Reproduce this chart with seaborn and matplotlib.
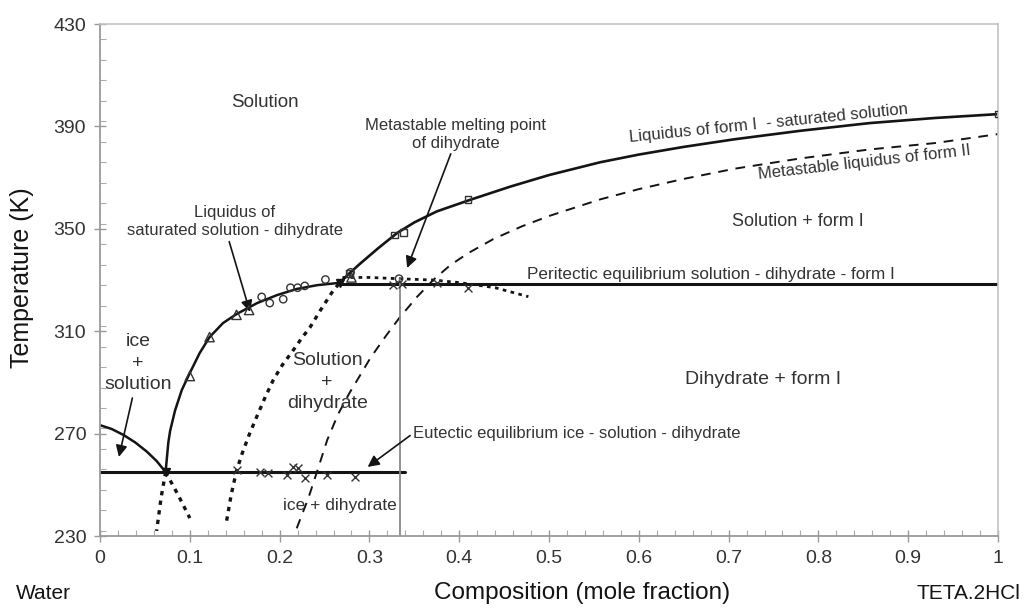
import matplotlib
matplotlib.use("Agg")
import matplotlib.pyplot as plt
import seaborn as sns
from matplotlib.ticker import MultipleLocator

# Curves (x = mole fraction, y = K)
ice_x = [0.0, 0.013, 0.026, 0.039, 0.052, 0.063, 0.073]
ice_y = [273.3, 271.8, 269.5, 266.6, 263.0, 259.3, 255.0]
ice_meta_x = [0.073, 0.087, 0.100]
ice_meta_y = [255.0, 246.0, 237.0]

dih_x = [0.073, 0.076, 0.078, 0.0835, 0.091, 0.100, 0.111, 0.122, 0.137, 0.152, 0.175, 0.197, 0.219, 0.242, 0.267]
dih_y = [255.0, 266.4, 271.0, 279.0, 287.0, 293.7, 301.5, 307.7, 313.2, 316.7, 321.0, 324.1, 326.5, 328.0, 328.9]
dih_meta_x = [0.073, 0.068, 0.063]
dih_meta_y = [255.0, 245.0, 232.0]

bnd_x = [0.141, 0.146, 0.152, 0.158, 0.166, 0.175, 0.184, 0.193, 0.203, 0.214, 0.224, 0.234, 0.246, 0.258, 0.267]
bnd_y = [236.0, 246.0, 255.5, 262.0, 269.5, 277.0, 284.3, 291.0, 296.8, 302.0, 307.0, 311.6, 318.5, 325.0, 329.0]

form1_x = [0.267, 0.278, 0.290, 0.310, 0.331, 0.350, 0.375, 0.412, 0.457, 0.500, 0.557, 0.600, 0.650,
           0.707, 0.780, 0.857, 0.930, 1.0]
form1_y = [329.0, 332.7, 336.5, 342.5, 348.4, 352.5, 356.8, 361.3, 366.5, 371.0, 376.0, 379.0, 382.0,
           385.0, 388.3, 391.3, 393.3, 394.8]

form2_x = [0.219, 0.232, 0.243, 0.253, 0.265, 0.278, 0.290, 0.301, 0.318, 0.334, 0.353, 0.371, 0.390, 0.410,
           0.438, 0.470, 0.500, 0.557, 0.600, 0.650, 0.707, 0.780, 0.857, 0.930, 1.0]
form2_y = [233.0, 244.8, 256.6, 267.5, 277.5, 286.0, 293.0, 299.5, 308.0, 315.5, 323.4, 330.0, 335.8, 340.5,
           346.0, 351.0, 355.0, 361.5, 365.5, 369.5, 373.5, 377.5, 381.0, 383.5, 387.0]

dih_melt_x = [0.270, 0.300, 0.333, 0.370, 0.400, 0.440, 0.477]
dih_melt_y = [331.0, 331.0, 330.5, 330.0, 329.0, 327.0, 323.5]

eutectic_x = [0.0, 0.34]
eutectic_y = [255.0, 255.0]
peritectic_x = [0.267, 1.0]
peritectic_y = [328.5, 328.5]
melt_x = [0.334, 0.334]
melt_y = [230.0, 330.5]

# experimental points
tri_x = [0.100, 0.122, 0.152, 0.166, 0.280]
tri_y = [292.5, 307.7, 316.4, 318.3, 331.0]
circ_x = [0.180, 0.189, 0.204, 0.212, 0.220, 0.228, 0.251, 0.279, 0.333]
circ_y = [323.4, 321.0, 322.5, 327.0, 327.0, 327.7, 330.2, 333.0, 330.5]
sq_x = [0.278, 0.328, 0.338, 0.410, 1.0]
sq_y = [332.5, 347.5, 348.6, 361.5, 394.8]
cross_x = [0.152, 0.178, 0.187, 0.208, 0.215, 0.220, 0.228, 0.253, 0.284, 0.326, 0.336, 0.375, 0.410]
cross_y = [255.7, 255.0, 254.6, 254.0, 257.0, 256.6, 252.6, 254.0, 253.0, 328.0, 328.5, 329.0, 327.0]

x_ticks = [0, 0.1, 0.2, 0.3, 0.4, 0.5, 0.6, 0.7, 0.8, 0.9, 1.0]
x_tick_labels = ["0", "0.1", "0.2", "0.3", "0.4", "0.5", "0.6", "0.7", "0.8", "0.9", "1"]
y_ticks = [230, 270, 310, 350, 390, 430]

sns.set_style("white")
plt.rcParams['font.family'] = ['Liberation Sans', 'DejaVu Sans']

fig = plt.figure(figsize=(10.24, 6.08), dpi=100)
ax = fig.add_axes([0.0977, 0.1184, 0.8769, 0.8421])

ink = "#141414"
txt = "#333333"
dots = (0, (1.3, 1.6))

# phase boundaries
sns.lineplot(x=ice_x, y=ice_y, ax=ax, color=ink, lw=1.8, sort=False, estimator=None)
sns.lineplot(x=ice_meta_x, y=ice_meta_y, ax=ax, color=ink, lw=2.4, sort=False, estimator=None, linestyle=dots)
sns.lineplot(x=dih_x, y=dih_y, ax=ax, color=ink, lw=1.8, sort=False, estimator=None)
sns.lineplot(x=dih_meta_x, y=dih_meta_y, ax=ax, color=ink, lw=2.4, sort=False, estimator=None, linestyle=dots)
sns.lineplot(x=bnd_x, y=bnd_y, ax=ax, color=ink, lw=2.4, sort=False, estimator=None, linestyle=dots)
sns.lineplot(x=form1_x, y=form1_y, ax=ax, color=ink, lw=1.9, sort=False, estimator=None)
sns.lineplot(x=form2_x, y=form2_y, ax=ax, color=ink, lw=1.4, sort=False, estimator=None, linestyle=(0, (5, 4)))
sns.lineplot(x=dih_melt_x, y=dih_melt_y, ax=ax, color=ink, lw=2.0, sort=False, estimator=None, linestyle=dots)
sns.lineplot(x=eutectic_x, y=eutectic_y, ax=ax, color=ink, lw=2.2, sort=False, estimator=None)
sns.lineplot(x=peritectic_x, y=peritectic_y, ax=ax, color=ink, lw=2.2, sort=False, estimator=None)
sns.lineplot(x=melt_x, y=melt_y, ax=ax, color="#8a8a8a", lw=1.3, sort=False, estimator=None)

# experimental markers
sns.scatterplot(x=tri_x, y=tri_y, ax=ax, marker="^", s=45, facecolors="none", edgecolors=txt, linewidth=1.0, zorder=5)
sns.scatterplot(x=circ_x, y=circ_y, ax=ax, marker="o", s=28, facecolors="none", edgecolors=txt, linewidth=1.0, zorder=5)
sns.scatterplot(x=sq_x, y=sq_y, ax=ax, marker="s", s=22, facecolors="none", edgecolors=txt, linewidth=1.0, zorder=5)
sns.scatterplot(x=cross_x, y=cross_y, ax=ax, marker="x", s=32, color=txt, linewidth=1.0, zorder=5)
ax.plot([0.073], [255], marker="v", color=ink, ms=6)
ax.plot([0.267], [329], marker="v", color=ink, ms=6)

# region labels
ax.text(0.184, 399.5, "Solution", fontsize=13.5, color=txt, ha="center", va="center")
ax.text(0.042, 297.5, "ice\n+\nsolution", fontsize=14, color=txt, ha="center", va="center", linespacing=1.35)
ax.text(0.253, 290.0, "Solution\n+\ndihydrate", fontsize=14, color=txt, ha="center", va="center", linespacing=1.35)
ax.text(0.267, 242, "ice + dihydrate", fontsize=12.5, color=txt, ha="center", va="center")
ax.text(0.777, 352.7, "Solution + form I", fontsize=13, color=txt, ha="center", va="center")
ax.text(0.738, 291, "Dihydrate + form I", fontsize=14, color=txt, ha="center", va="center")
ax.text(0.68, 332.2, "Peritectic equilibrium solution - dihydrate - form I", fontsize=12.3, color=txt,
        ha="center", va="center")
ax.text(0.745, 391.3, "Liquidus of form I  - saturated solution", fontsize=12, color=txt,
        ha="center", va="center", rotation=5.8)
ax.text(0.851, 376.1, "Metastable liquidus of form II", fontsize=12, color=txt,
        ha="center", va="center", rotation=6.5)

arrow = dict(arrowstyle="-|>", color=ink, lw=1.2, mutation_scale=17, shrinkA=0, shrinkB=0)
ax.annotate("", xy=(0.021, 260.9), xytext=(0.036, 283.9), arrowprops=arrow)
ax.annotate("Liquidus of\nsaturated solution - dihydrate", xy=(0.167, 317.5), xytext=(0.150, 352.7),
            fontsize=12, color=txt, ha="center", va="center", linespacing=1.25,
            arrowprops=dict(arrow, relpos=(0.47, 0.0)))
ax.annotate("Metastable melting point\nof dihydrate", xy=(0.342, 334.7), xytext=(0.396, 387),
            fontsize=12, color=txt, ha="center", va="center", linespacing=1.25,
            arrowprops=dict(arrow, relpos=(0.48, 0.0)))
ax.annotate("Eutectic equilibrium ice - solution - dihydrate", xy=(0.298, 257), xytext=(0.349, 270.2),
            fontsize=12, color=txt, ha="left", va="center",
            arrowprops=dict(arrow, relpos=(0.0, 0.5)))

# axes
ax.set_xlim(0, 1)
ax.set_ylim(230, 430)
ax.set_xticks(x_ticks)
ax.set_xticklabels(x_tick_labels)
ax.set_yticks(y_ticks)
ax.xaxis.set_minor_locator(MultipleLocator(0.02))
ax.yaxis.set_minor_locator(MultipleLocator(8))
ax.tick_params(which="major", direction="inout", length=8, width=1, color="#999999",
               labelsize=14, labelcolor=txt, pad=6)
ax.tick_params(which="minor", direction="in", length=4, width=0.8, color="#aaaaaa")
ax.tick_params(axis="x", which="both", bottom=True)
ax.tick_params(axis="y", which="both", left=True)
for side in ["left", "bottom"]:
    ax.spines[side].set_color("#9a9a9a")
    ax.spines[side].set_linewidth(1.3)
for side in ["top", "right"]:
    ax.spines[side].set_color("#c4c4c4")
    ax.spines[side].set_linewidth(1.2)

fig.text(0.021, 0.543, "Temperature (K)", fontsize=18, color=ink, ha="center", va="center", rotation=90)
fig.text(0.568, 0.024, "Composition (mole fraction)", fontsize=17.5, color=ink, ha="center", va="center")
fig.text(0.042, 0.024, "Water", fontsize=15, color=ink, ha="center", va="center")
fig.text(0.946, 0.024, "TETA.2HCl", fontsize=15, color=ink, ha="center", va="center")

fig.savefig("out.png", dpi=100)
